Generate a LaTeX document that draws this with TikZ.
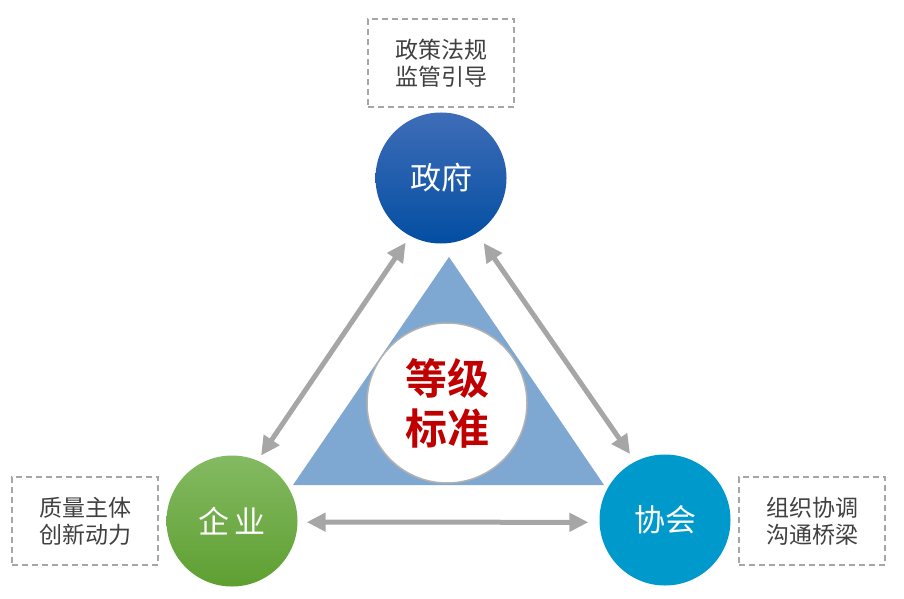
\documentclass[tikz,border=0pt]{standalone}
\usepackage{fontspec}
\usetikzlibrary{arrows.meta}
\newfontfamily\cjk[BoldFont={Noto Sans CJK SC Bold}]{Noto Sans CJK SC}
\definecolor{govtop}{HTML}{3F6DB8}
\definecolor{govbot}{HTML}{034EA2}
\definecolor{enttop}{HTML}{84BA62}
\definecolor{entbot}{HTML}{5E9F31}
\definecolor{assocblue}{HTML}{0099CC}
\definecolor{tribg}{HTML}{7EA8D1}
\definecolor{linegray}{HTML}{A6A6A6}
\definecolor{txtgray}{HTML}{404040}
\definecolor{stdred}{HTML}{C00000}

\begin{document}
\begin{tikzpicture}[x=1pt, y=-1pt,
  party/.style={circle, minimum size=131pt, inner sep=0pt, text=white,
    font=\cjk\fontsize{31}{34}\selectfont},
  notebox/.style={draw=linegray, dashed, dash pattern=on 6pt off 4pt, line width=1.6pt,
    minimum width=146pt, minimum height=88pt, inner sep=0pt, align=center, text=txtgray,
    font=\cjk\fontsize{23}{27}\selectfont},
  stdcircle/.style={circle, fill=white, draw=black!30, line width=1.5pt,
    minimum size=160pt, inner sep=0pt, align=center, text=stdred,
    font=\cjk\bfseries\fontsize{42}{50}\selectfont},
  biarrow/.style={draw=linegray, line width=5pt,
    {Triangle[width=18pt,length=19pt]}-{Triangle[width=18pt,length=19pt]}}]
  \useasboundingbox (0,0) rectangle (904,599);

  % base triangle
  \fill[tribg] (449,257) -- (293,485) -- (604,485) -- cycle;
  \node[stdcircle] (std) at (447,403) {等级\\标准};

  \node[party, top color=govtop, bottom color=govbot] (gov) at (441,178) {政府};
  \node[party, top color=enttop, bottom color=entbot] (ent) at (232,521) {企\,业};
  \node[party, fill=assocblue] (assoc) at (665,520) {协会};

  \node[notebox] (govnote) at (441,63) {政策法规\\监管引导};
  \node[notebox] (entnote) at (85,521) {质量主体\\创新动力};
  \node[notebox] (assocnote) at (812,521) {组织协调\\沟通桥梁};

  % arrows between the three parties
  \draw[biarrow, shorten <=8pt, shorten >=6pt] (gov.242) -- (ent.67);
  \draw[biarrow, shorten <=12pt, shorten >=9pt] (gov.303) -- (assoc.117);
  \draw[biarrow, shorten <=9pt, shorten >=11pt] (ent.-1.5) -- (assoc.182);
\end{tikzpicture}
\end{document}
